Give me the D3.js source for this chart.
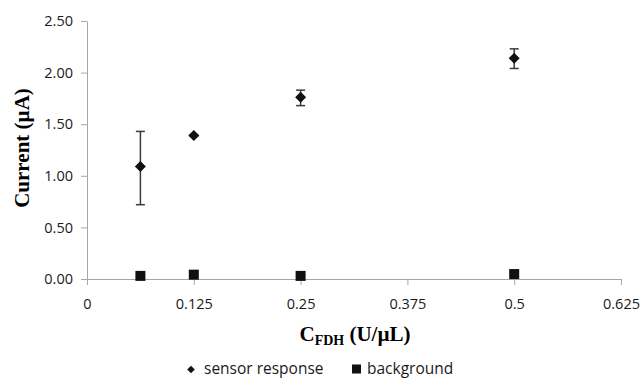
<!DOCTYPE html>
<html>
<head>
<meta charset="utf-8">
<script src="https://cdn.jsdelivr.net/npm/d3@7"></script>
<style>
  body { margin: 0; background: #fff; }
  .tick text { font-family: "Open Sans", sans-serif; font-size: 14.5px; fill: #1a1a1a; }
  .axis path, .axis line { stroke: #a6a6a6; }
</style>
</head>
<body>
<svg width="643" height="378"></svg>
<script>
// chart data
var concentration = [0.0625, 0.125, 0.25, 0.5];
var sensorResponse = [1.09, 1.39, 1.76, 2.14];
var sensorErrLow = [0.72, 1.385, 1.68, 2.04];
var sensorErrHigh = [1.43, 1.395, 1.83, 2.23];
var background = [0.03, 0.042, 0.03, 0.048];
var xTicks = [0, 0.125, 0.25, 0.375, 0.5, 0.625];
var xTickLabels = ["0", "0.125", "0.25", "0.375", "0.5", "0.625"];
var yTicks = [0, 0.5, 1.0, 1.5, 2.0, 2.5];

var svg = d3.select("svg"),
    margin = {top: 21, right: 22, bottom: 99, left: 87},
    width = svg.attr("width") - margin.left - margin.right,
    height = svg.attr("height") - margin.top - margin.bottom;

var g = svg.append("g")
    .attr("transform", "translate(" + margin.left + "," + margin.top + ")");

var x = d3.scaleLinear().domain([0, 0.625]).range([0, width]);
var y = d3.scaleLinear().domain([0, 2.5]).range([height, 0]);

// x axis
var xAxis = g.append("g")
    .attr("class", "axis")
    .attr("transform", "translate(0," + height + ")")
    .call(d3.axisBottom(x).tickValues(xTicks).tickSize(6).tickSizeOuter(0)
        .tickFormat(function(d, i) { return xTickLabels[i]; }));
xAxis.selectAll(".tick text").attr("y", 20).attr("dy", "0.71em");

// y axis
var yAxis = g.append("g")
    .attr("class", "axis")
    .call(d3.axisLeft(y).tickValues(yTicks).tickSize(6).tickSizeOuter(0)
        .tickFormat(d3.format(".2f")));
yAxis.selectAll(".tick text").attr("x", -14);

// error bars
var pts = concentration.map(function(c, i) {
    return {x: c, y: sensorResponse[i], lo: sensorErrLow[i], hi: sensorErrHigh[i], bg: background[i]};
});

var err = g.selectAll(".err").data(pts).enter().append("g")
    .attr("class", "err")
    .attr("stroke", "#3a3a3a")
    .attr("stroke-width", 1.5);
err.append("line")
    .attr("x1", function(d) { return x(d.x); })
    .attr("x2", function(d) { return x(d.x); })
    .attr("y1", function(d) { return y(d.lo); })
    .attr("y2", function(d) { return y(d.hi); });
err.selectAll(".cap").data(function(d) { return [[d.x, d.lo], [d.x, d.hi]]; })
    .enter().append("line")
    .attr("x1", function(d) { return x(d[0]) - 4.5; })
    .attr("x2", function(d) { return x(d[0]) + 4.5; })
    .attr("y1", function(d) { return y(d[1]); })
    .attr("y2", function(d) { return y(d[1]); });

// diamond marker
function diamond(r) {
    return "M0," + (-r) + "L" + r + ",0L0," + r + "L" + (-r) + ",0Z";
}

// sensor response (diamonds)
g.selectAll(".sensor").data(pts).enter().append("path")
    .attr("class", "sensor")
    .attr("d", diamond(5.5))
    .attr("transform", function(d) { return "translate(" + x(d.x) + "," + y(d.y) + ")"; })
    .attr("fill", "#111");

// background (squares)
g.selectAll(".bg").data(pts).enter().append("rect")
    .attr("class", "bg")
    .attr("x", function(d) { return x(d.x) - 5; })
    .attr("y", function(d) { return y(d.bg) - 5; })
    .attr("width", 10)
    .attr("height", 10)
    .attr("fill", "#111");

// axis titles
svg.append("text")
    .attr("transform", "translate(29," + (margin.top + height / 2 - 2) + ") rotate(-90)")
    .attr("text-anchor", "middle")
    .style("font", "bold 21px 'Liberation Serif', serif")
    .text("Current (\u00b5A)");

var xt = svg.append("text")
    .attr("x", 355)
    .attr("y", 341)
    .attr("text-anchor", "middle")
    .style("font", "bold 21px 'Liberation Serif', serif");
xt.append("tspan").text("C");
xt.append("tspan").attr("dy", 4).style("font-size", "14px").text("FDH");
xt.append("tspan").attr("dy", -4).text(" (U/\u00b5L)");

// legend
var legend = svg.append("g").style("font", "15.5px 'Open Sans', sans-serif");
legend.append("path")
    .attr("d", diamond(3.8))
    .attr("transform", "translate(191,369.5)")
    .attr("fill", "#111");
legend.append("text").attr("x", 204).attr("y", 374).attr("fill", "#1a1a1a").text("sensor response");
legend.append("rect").attr("x", 352).attr("y", 364.5).attr("width", 9).attr("height", 9).attr("fill", "#111");
legend.append("text").attr("x", 367).attr("y", 374).attr("fill", "#1a1a1a").text("background");
</script>
</body>
</html>
